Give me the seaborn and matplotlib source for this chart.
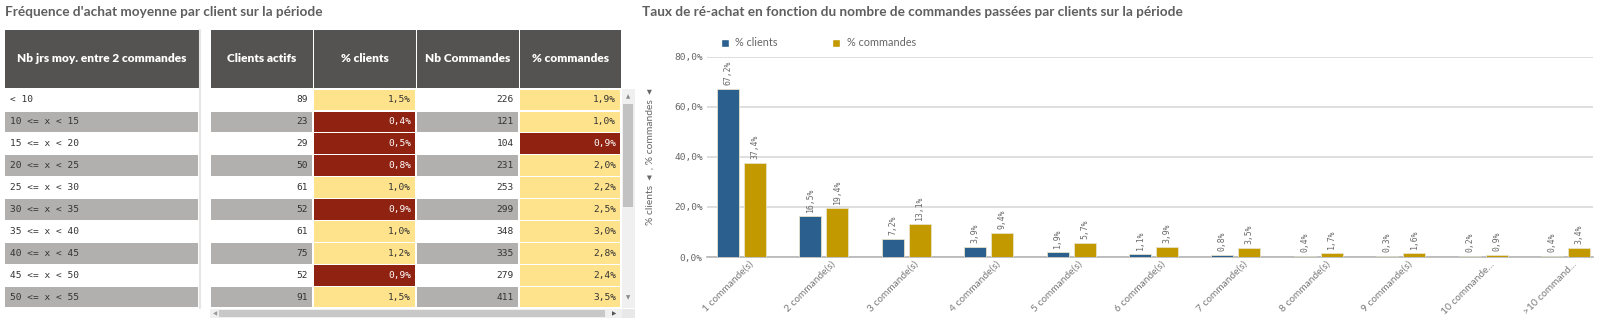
import matplotlib
matplotlib.use("Agg")
import matplotlib.pyplot as plt
from matplotlib.patches import Rectangle, Patch
from matplotlib.transforms import ScaledTranslation
import seaborn as sns
import pandas as pd

# ---------------- data ----------------
ranges = ["< 10", "10 <= x < 15", "15 <= x < 20", "20 <= x < 25", "25 <= x < 30",
          "30 <= x < 35", "35 <= x < 40", "40 <= x < 45", "45 <= x < 50", "50 <= x < 55"]
clients_actifs = [89, 23, 29, 50, 61, 52, 61, 75, 52, 91]
pct_clients = [1.5, 0.4, 0.5, 0.8, 1.0, 0.9, 1.0, 1.2, 0.9, 1.5]
nb_commandes = [226, 121, 104, 231, 253, 299, 348, 335, 279, 411]
pct_commandes = [1.9, 1.0, 0.9, 2.0, 2.2, 2.5, 3.0, 2.8, 2.4, 3.5]
table_headers = ["Nb jrs moy. entre 2 commandes", "Clients actifs", "% clients",
                 "Nb Commandes", "% commandes"]

categories = ["1 commande(s)", "2 commande(s)", "3 commande(s)", "4 commande(s)",
              "5 commande(s)", "6 commande(s)", "7 commande(s)", "8 commande(s)",
              "9 commande(s)", "10 commande...", ">10 command..."]
bar_clients = [67.2, 16.5, 7.2, 3.9, 1.9, 1.1, 0.8, 0.4, 0.3, 0.2, 0.4]
bar_commandes = [37.4, 19.4, 13.1, 9.4, 5.7, 3.9, 3.5, 1.7, 1.6, 0.9, 3.4]
y_ticks = [0, 20, 40, 60, 80]

title_left = "Fréquence d'achat moyenne par client sur la période"
title_right = "Taux de ré-achat en fonction du nombre de commandes passées par clients sur la période"

# ---------------- style ----------------
sns.set_theme(style="white")
plt.rcParams['font.family'] = ['Lato', 'DejaVu Sans']

W, H = 1600, 321
BLUE = "#2a5f8e"
GOLD = "#c29a00"
HEADER = "#545352"
GRAYROW = "#b1b0af"
YELLOW = "#fee38c"
RED = "#8f2211"
TXT = "#333333"
MONO = "DejaVu Sans Mono"

def fmt(v):
    return f"{v:.1f}%".replace(".", ",")

fig = plt.figure(figsize=(W / 100, H / 100), dpi=100)
fig.patch.set_facecolor("white")

# overlay axes in pixel coordinates for table & titles
ov = fig.add_axes([0, 0, 1, 1])
ov.set_xlim(0, W)
ov.set_ylim(H, 0)
ov.axis("off")

ov.text(5, 12, title_left, fontsize=9.8, fontweight="bold", color="#5f5f5f", va="center", ha="left")
ov.text(642, 12, title_right, fontsize=9.8, fontweight="bold", color="#5f5f5f", va="center", ha="left")

# table layout
col_edges = [(5, 199), (211, 313), (314, 416), (417, 519), (520, 621)]
head_top, head_bot = 30, 88
row_top = 89
row_h = 21.9

for (x0, x1), label in zip(col_edges, table_headers):
    ov.add_patch(Rectangle((x0, head_top), x1 - x0, head_bot - head_top, facecolor=HEADER, edgecolor="none"))
    ov.text((x0 + x1) / 2, (head_top + head_bot) / 2, label, color="white", fontweight="heavy",
            fontsize=8.6, ha="center", va="center")

for i in range(len(ranges)):
    y0 = row_top + i * row_h
    base = "white" if i % 2 == 0 else GRAYROW
    values = [ranges[i], str(clients_actifs[i]), fmt(pct_clients[i]),
              str(nb_commandes[i]), fmt(pct_commandes[i])]
    pcts = [None, None, pct_clients[i], None, pct_commandes[i]]
    for j, ((x0, x1), val) in enumerate(zip(col_edges, values)):
        fc = base
        tc = TXT
        if pcts[j] is not None:
            if pcts[j] < 1.0:
                fc, tc = RED, "white"
            else:
                fc = YELLOW
        ov.add_patch(Rectangle((x0, y0 + 0.6), x1 - x0 - 0.6, row_h - 1.2, facecolor=fc, edgecolor="none"))
        if j == 0:
            ov.text(x0 + 5, y0 + row_h / 2, val, fontsize=6.8, family=MONO, color=tc, ha="left", va="center")
        else:
            ov.text(x1 - 5, y0 + row_h / 2, val, fontsize=6.8, family=MONO, color=tc, ha="right", va="center")

# subtle shadow for first block
ov.plot([200, 200], [head_top, row_top + 10 * row_h], color="#e6e6e6", lw=1.5)

# vertical scrollbar
tb = row_top + 10 * row_h
ov.add_patch(Rectangle((622, row_top), 13, tb - row_top, facecolor="#f0f0f0", edgecolor="none"))
ov.add_patch(Rectangle((623, 104), 10, 103, facecolor="#c2c2c2", edgecolor="none"))
ov.text(628.5, 97, "▲", fontsize=4, color="#888888", ha="center", va="center")
ov.text(628.5, 298, "▼", fontsize=4, color="#888888", ha="center", va="center")
# horizontal scrollbar
ov.add_patch(Rectangle((210, tb + 1), 412, 9, facecolor="#f0f0f0", edgecolor="none"))
ov.add_patch(Rectangle((219, tb + 2), 386, 7, facecolor="#c8c8c8", edgecolor="none"))
ov.text(215, tb + 5.5, "◀", fontsize=4, color="#999999", ha="center", va="center")
ov.text(614, tb + 5.5, "▶", fontsize=4, color="#555555", ha="center", va="center")
ov.add_patch(Rectangle((622, tb + 1), 13, 9, facecolor="#e8e8e8", edgecolor="none"))

# ---------------- bar chart ----------------
x_left, x_right = 707, 1593
y_top, y_bot = 56.7, 257
ax = fig.add_axes([x_left / W, (H - y_bot) / H, (x_right - x_left) / W, (y_bot - y_top) / H])
ax.set_facecolor("none")

df = pd.DataFrame({
    "cat": categories * 2,
    "measure": ["% clients"] * len(categories) + ["% commandes"] * len(categories),
    "val": bar_clients + bar_commandes,
})
sns.barplot(data=df, x="cat", y="val", hue="measure", palette=[BLUE, GOLD],
            width=0.655, gap=0.185, ax=ax, legend=False, saturation=1,
            edgecolor="#e8e2c8", linewidth=0.6, zorder=3)

ax.set_xlim(-0.419, 10.334)
ax.set_ylim(0, 80)
ax.set_yticks(y_ticks)
ax.set_yticklabels([fmt(t) for t in y_ticks], family=MONO, fontsize=6.8, color="#666666")
ax.set_xticks(range(len(categories)))
ax.set_xticklabels(categories, rotation=45, ha="right", rotation_mode="anchor",
                   fontsize=7.3, color="#7a7a7a")
ax.tick_params(axis="both", length=0, pad=3)
ax.tick_params(axis="x", pad=2)
shift = ScaledTranslation(7 / 100, 0, fig.dpi_scale_trans)
for lbl in ax.get_xticklabels():
    lbl.set_transform(lbl.get_transform() + shift)
ax.grid(axis="y", color="#dcdcdc", lw=1.3, zorder=0)
ax.set_axisbelow(True)
for s in ["top", "right", "left"]:
    ax.spines[s].set_visible(False)
ax.spines["bottom"].set_color("#b5b5b5")
ax.spines["bottom"].set_linewidth(1.2)
ax.set_xlabel("")
ax.set_ylabel("% clients  \u25c2  , % commandes  \u25c2", fontsize=7.4, color="#666666")
ax.yaxis.set_label_coords(-0.059, 0.5)

series_vals = [bar_clients, bar_commandes]
for cont, vals in zip(ax.containers, series_vals):
    ax.bar_label(cont, labels=[fmt(v) for v in vals], rotation=90, padding=3,
                 fontsize=5.9, family=MONO, color="#6a6a6a")

handles = [Patch(facecolor=BLUE, label="% clients"), Patch(facecolor=GOLD, label="% commandes")]
fig.legend(handles=handles, ncol=2, loc="center left", bbox_to_anchor=(711 / W, 1 - 43 / H),
           frameon=False, handlelength=0.75, handleheight=0.75, handletextpad=0.6,
           columnspacing=5.0, fontsize=7.8, labelcolor="#666666")

fig.savefig("out.png", dpi=100, facecolor="white")
